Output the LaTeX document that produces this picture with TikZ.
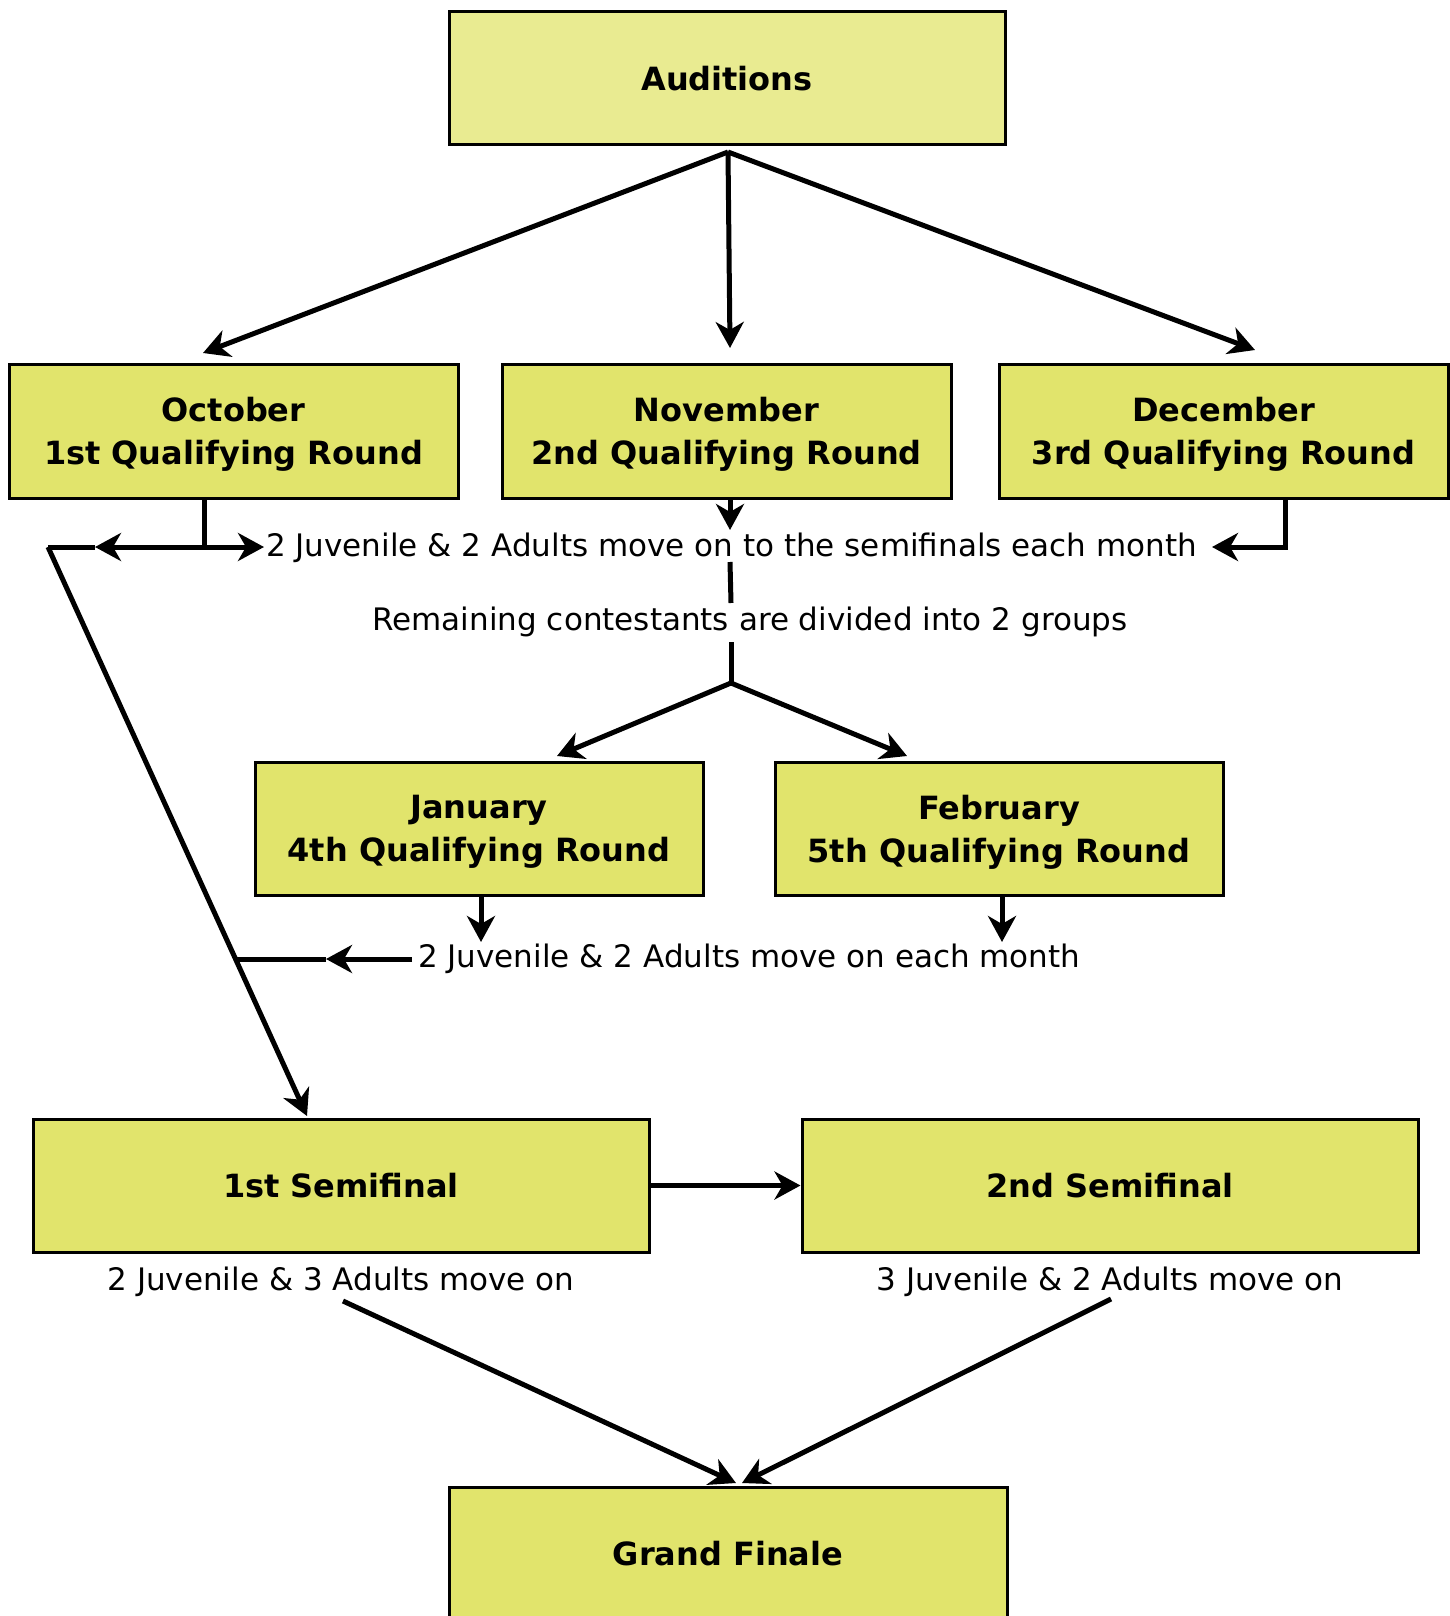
\documentclass[tikz,border=0pt]{standalone}
\usepackage{fontspec}
\setmainfont{DejaVu Sans}
\usetikzlibrary{arrows.meta}
\definecolor{boxfill}{HTML}{E1E46C}
\definecolor{audfill}{HTML}{E9EB91}
\begin{document}
\begin{tikzpicture}[x=1pt,y=-1pt,
  box/.style={draw=black, line width=3pt, fill=boxfill, align=center, inner sep=0pt,
    text depth=0pt, font=\fontsize{32}{43}\selectfont\bfseries},
  lbl/.style={inner sep=0pt, font=\fontsize{31}{36}\selectfont},
  conn/.style={line width=5pt, -{Stealth[length=26pt,width=28pt,inset=8pt]}},
  plain/.style={line width=5pt}]
\useasboundingbox (0,0) rectangle (1450,1616);
\clip (0,0) rectangle (1450,1616);

% boxes
\node[box, fill=audfill, minimum width=556pt, minimum height=133pt] (aud) at (727,78.5) {Auditions};
\node[box, minimum width=449pt, minimum height=134pt] (oct) at (233.5,431) {October\\1st Qualifying Round};
\node[box, minimum width=449pt, minimum height=134pt] (nov) at (726.5,431) {November\\2nd Qualifying Round};
\node[box, minimum width=449pt, minimum height=134pt] (dec) at (1223.5,431) {December\\3rd Qualifying Round};
\node[box, minimum width=448pt, minimum height=133pt] (jan) at (479,828.5) {January\\4th Qualifying Round};
\node[box, minimum width=448pt, minimum height=133pt] (feb) at (999,828.5) {February\\5th Qualifying Round};
\node[box, minimum width=616pt, minimum height=133pt] (sf1) at (341,1185.5) {1st Semifinal};
\node[box, minimum width=616pt, minimum height=133pt] (sf2) at (1110,1185.5) {2nd Semifinal};
\node[box, minimum width=558pt, minimum height=133pt] (gf) at (728,1553.5) {Grand Finale};

% labels
\node[lbl, anchor=west] (t1) at (266,548) {2 Juvenile \& 2 Adults move on to the semifinals each month};
\node[lbl] (t2) at (750,622) {Remaining contestants are divided into 2 groups};
\node[lbl, anchor=west] (t3) at (418,959) {2 Juvenile \& 2 Adults move on each month};
\node[lbl] (t4) at (341,1282) {2 Juvenile \& 3 Adults move on};
\node[lbl] (t5) at (1110,1282) {3 Juvenile \& 2 Adults move on};

% coordinates
\coordinate (a0) at (728,152);
\coordinate (octdown) at (204,547);
\coordinate (octr) at (264,547);
\coordinate (octl) at (95,547);
\coordinate (d0) at (48,547);
\coordinate (d1) at (307,1116);
\coordinate (novtip) at (730,530);
\coordinate (deccorner) at (1285,547);
\coordinate (dectip) at (1212,547);
\coordinate (m0) at (730,562);
\coordinate (m1) at (731,603);
\coordinate (m2) at (731,642);
\coordinate (m3) at (731,683);
\coordinate (jtip) at (557,756);
\coordinate (ftip) at (907,756);
\coordinate (jfl) at (412,959);
\coordinate (jftip) at (326,959);
\coordinate (jfd) at (235,959);

% connectors from auditions
\draw[conn] (a0) -- (203,353);
\draw[conn] (a0) -- (730,348);
\draw[conn] (a0) -- (1255,350);

% october
\draw[plain] (oct.south -| octdown) -- (octdown);
\draw[conn] (octdown) -- (octr);
\draw[conn] (octdown) -- (octl);
\draw[plain] (octl) -- (d0);
\draw[conn] (d0) -- (d1);

% november
\draw[conn] (nov.south -| novtip) -- (novtip);
\draw[plain] (m0) -- (m1);
\draw[plain] (m2) -- (m3);
\draw[conn] (m3) -- (jtip);
\draw[conn] (m3) -- (ftip);

% december
\draw[conn] (dec.south -| deccorner) -- (deccorner) -- (dectip);

% january/february
\draw[conn] (jan.south -| 481,0) -- (481,942);
\draw[conn] (feb.south -| 1002,0) -- (1002,942);
\draw[conn] (jfl) -- (jftip);
\draw[plain] (jftip) -- (jfd);

% semifinals
\draw[conn] (sf1.east) -- (sf2.west);
\draw[conn] (343,1301) -- (736,1483);
\draw[conn] (1111,1299) -- (742,1483);
\end{tikzpicture}
\end{document}
